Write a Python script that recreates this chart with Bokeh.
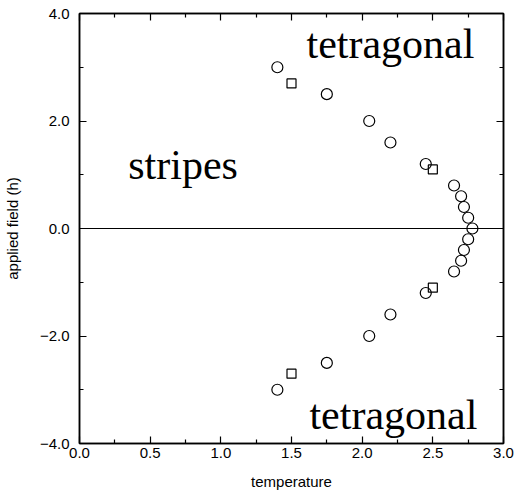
from bokeh.plotting import figure
from bokeh.models import (LinearAxis, FixedTicker, CustomJSTickFormatter, Span, Label)
from bokeh.embed import file_html
from bokeh.resources import INLINE

# --- data ---
circle_T = [1.40, 1.75, 2.05, 2.20, 2.45, 2.65, 2.70, 2.72, 2.75, 2.78,
            2.75, 2.72, 2.70, 2.65, 2.45, 2.20, 2.05, 1.75, 1.40]
circle_h = [3.0, 2.5, 2.0, 1.6, 1.2, 0.8, 0.6, 0.4, 0.2, 0.0,
            -0.2, -0.4, -0.6, -0.8, -1.2, -1.6, -2.0, -2.5, -3.0]
square_T = [1.50, 2.50, 2.50, 1.50]
square_h = [2.7, 1.1, -1.1, -2.7]

x_major = [0.0, 0.5, 1.0, 1.5, 2.0, 2.5, 3.0]
x_minor = [0.25, 0.75, 1.25, 1.75, 2.25, 2.75]
y_major = [-4.0, -2.0, 0.0, 2.0, 4.0]
y_minor = [-3.0, -1.0, 1.0, 3.0]

p = figure(width=516, height=495, x_range=(0, 3), y_range=(-4, 4),
           output_backend="svg", toolbar_location=None,
           min_border_left=77, min_border_right=13, min_border_top=13,
           min_border_bottom=52)
p.background_fill_color = "white"
p.border_fill_color = "white"
p.xgrid.visible = False
p.ygrid.visible = False
p.outline_line_color = "black"
p.outline_line_width = 1.5

fmt = CustomJSTickFormatter(code="""
const s = Math.abs(tick).toFixed(1);
return tick < -1e-9 ? '\\u2212' + s : s;
""")
blank = CustomJSTickFormatter(code="return '';")

def style_axis(ax, ticks, minor, labels=True):
    ax.ticker = FixedTicker(ticks=ticks, minor_ticks=minor)
    ax.axis_line_color = "black"
    ax.axis_line_width = 1.5
    ax.major_tick_in = 7
    ax.major_tick_out = 0
    ax.minor_tick_in = 4
    ax.minor_tick_out = 0
    ax.major_tick_line_color = "black"
    ax.minor_tick_line_color = "black"
    ax.major_tick_line_width = 1.2
    ax.minor_tick_line_width = 1.2
    if labels:
        ax.formatter = fmt
        ax.major_label_text_font = "Liberation Sans"
        ax.major_label_text_font_size = "15px"
        ax.major_label_text_color = "black"
        ax.axis_label_text_font = "Liberation Sans"
        ax.axis_label_text_font_size = "15px"
        ax.axis_label_text_font_style = "normal"
        ax.axis_label_text_color = "black"
    else:
        ax.formatter = blank
        ax.major_label_standoff = 0

xa = p.xaxis[0]
style_axis(xa, x_major, x_minor)
xa.axis_label = "temperature"
xa.major_label_standoff = 4
xa.axis_label_standoff = 12

ya = p.yaxis[0]
style_axis(ya, y_major, y_minor)
ya.axis_label = "applied field (h)"
ya.major_label_standoff = 10
ya.axis_label_standoff = 16

top = LinearAxis()
style_axis(top, x_major, x_minor, labels=False)
p.add_layout(top, "above")
right = LinearAxis()
style_axis(right, y_major, y_minor, labels=False)
p.add_layout(right, "right")

p.add_layout(Span(location=0, dimension="width", line_color="black", line_width=1.2))

p.scatter(circle_T, circle_h, marker="circle", size=11, fill_color=None,
          line_color="black", line_width=1.2)
p.scatter(square_T, square_h, marker="square", size=9, fill_color=None,
          line_color="black", line_width=1.2)

for txt, x, y in [("tetragonal", 1.606, 3.44), ("stripes", 0.345, 1.18),
                  ("tetragonal", 1.627, -3.47)]:
    p.add_layout(Label(x=x, y=y, text=txt, text_font="Liberation Serif",
                       text_font_size="42px", text_color="black",
                       text_baseline="alphabetic", text_align="left"))

open("out.html", "w").write(file_html(p, INLINE))
